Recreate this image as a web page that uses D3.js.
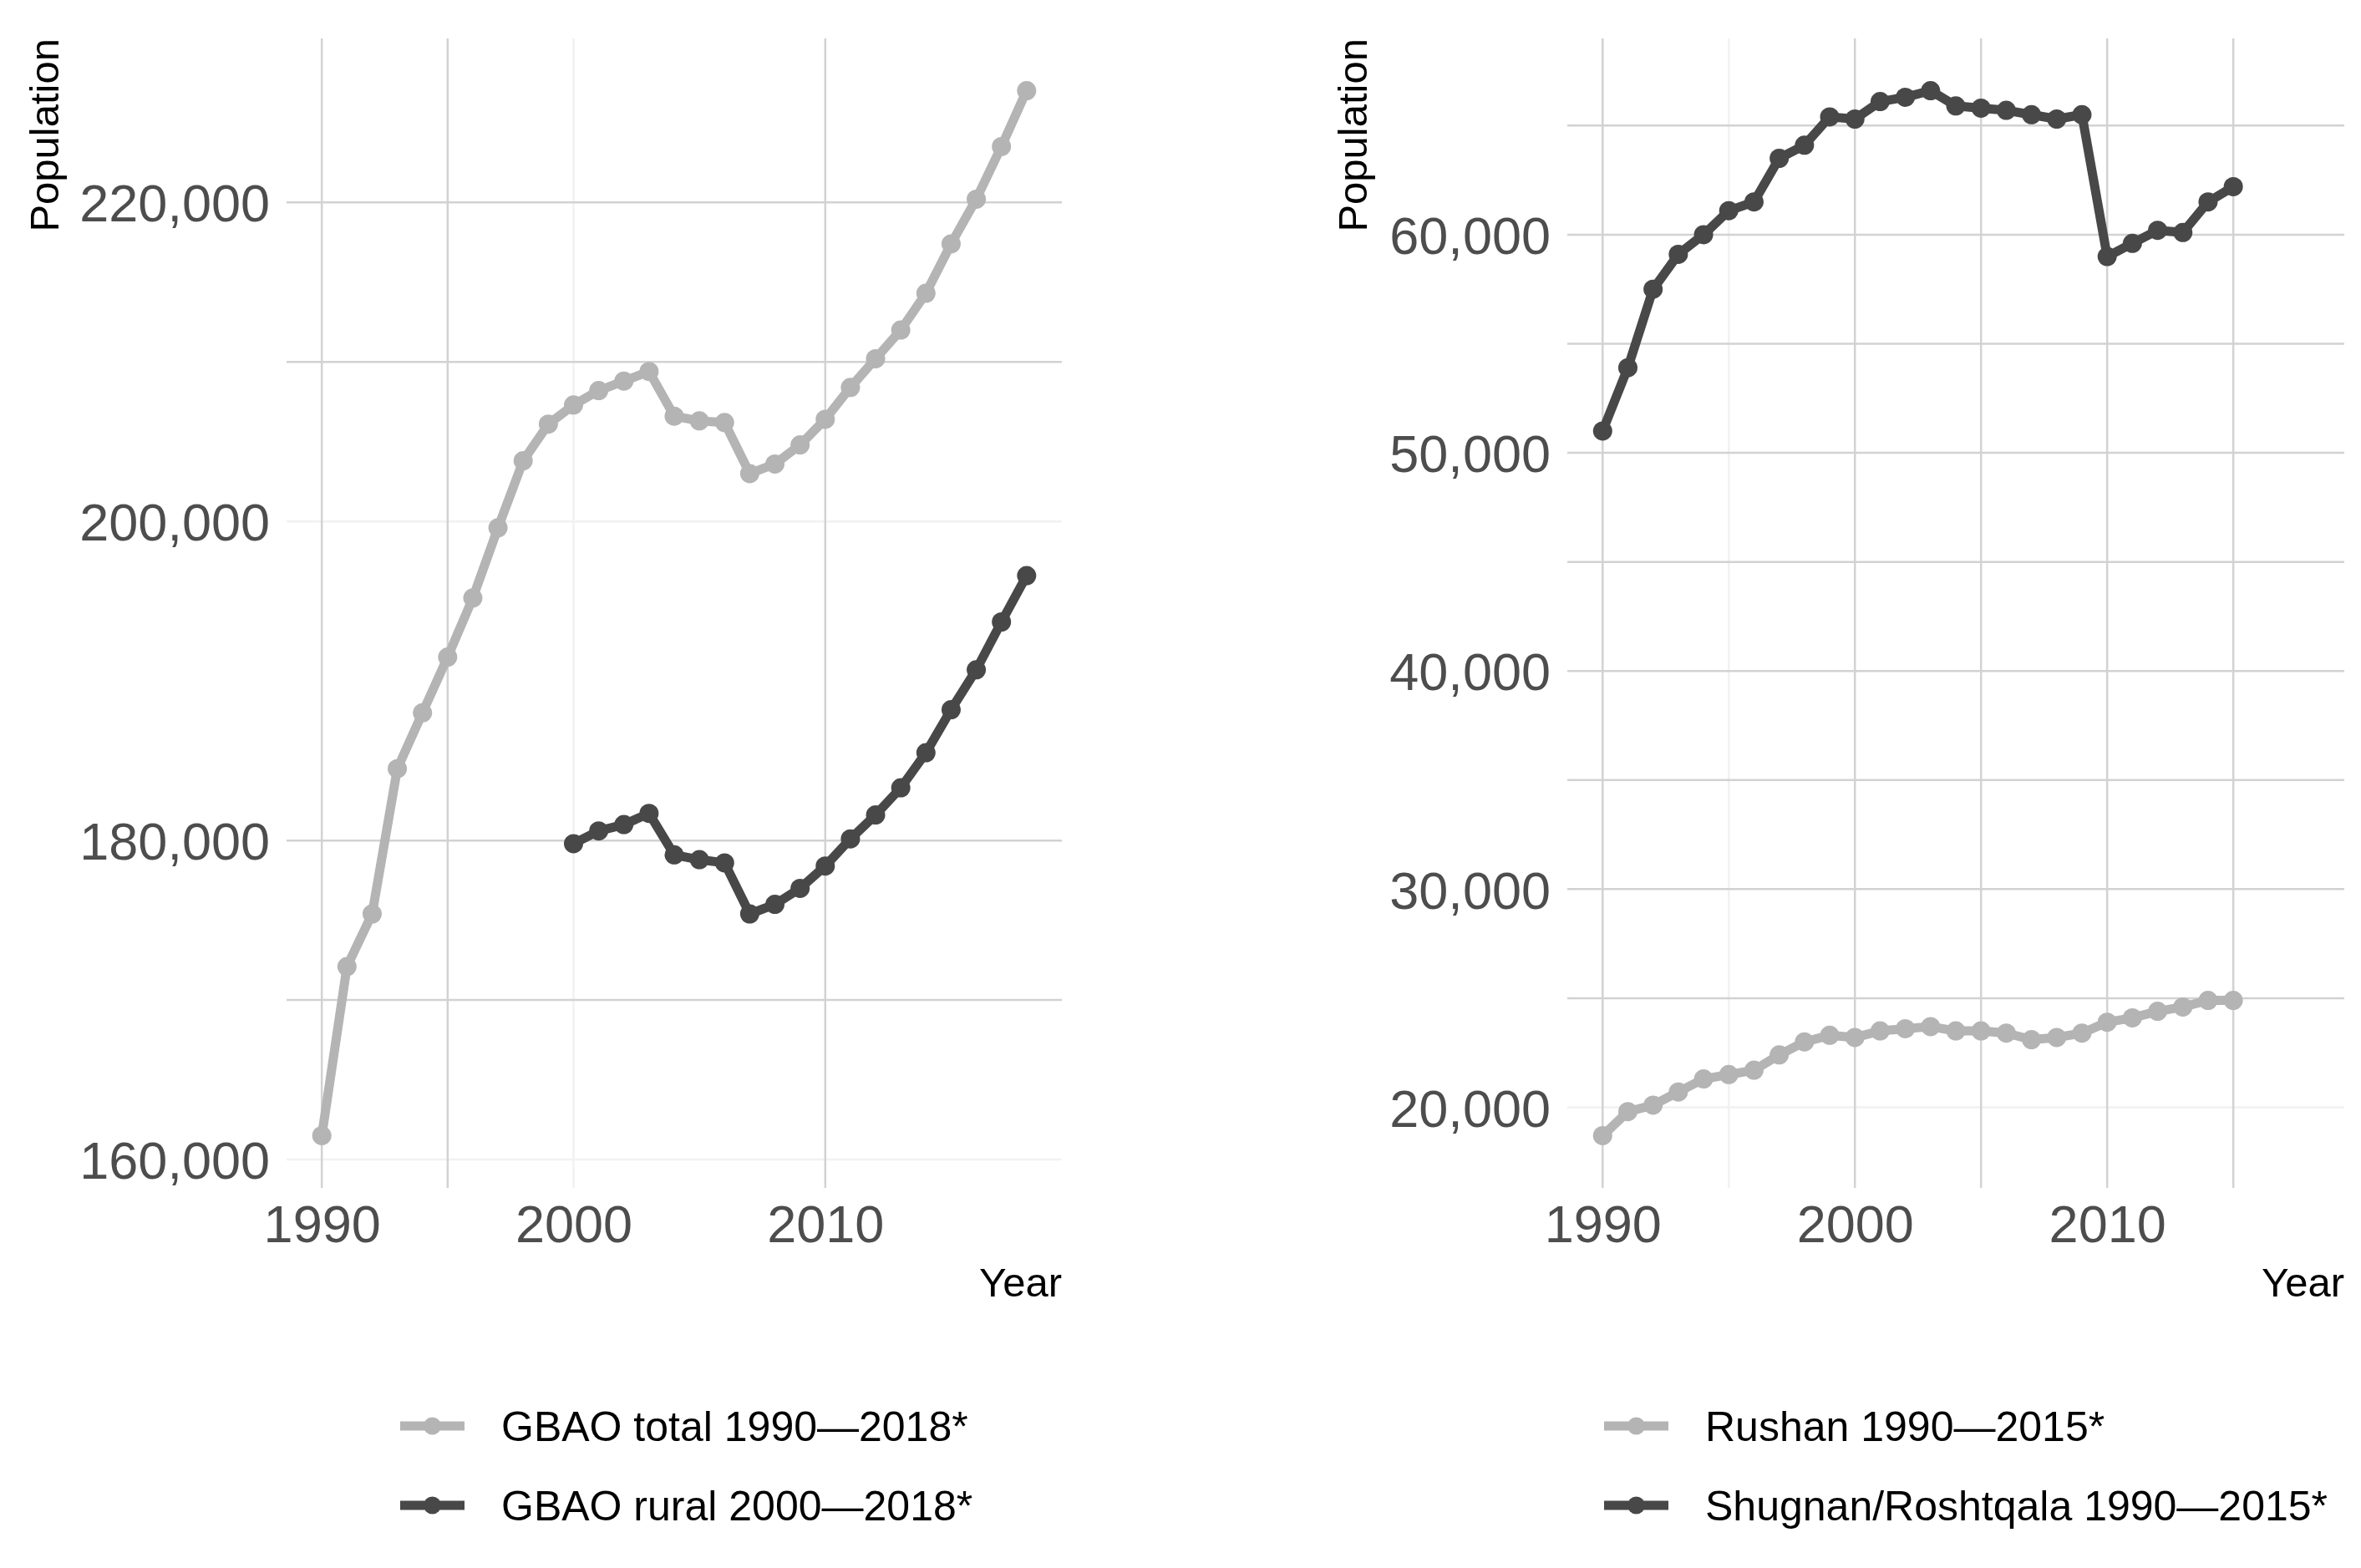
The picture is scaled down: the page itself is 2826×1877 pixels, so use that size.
<!DOCTYPE html>
<html>
<head>
<meta charset="utf-8">
<script src="https://cdn.jsdelivr.net/npm/d3@7"></script>
<style>
  html, body { margin: 0; padding: 0; background: #ffffff; }
  svg { display: block; font-family: "Liberation Sans", Arial, sans-serif; }
</style>
</head>
<body>
<svg id="chart"></svg>
<script>
// ---- data ----
const yearsTotal = [1990, 1991, 1992, 1993, 1994, 1995, 1996, 1997, 1998, 1999,
                    2000, 2001, 2002, 2003, 2004, 2005, 2006, 2007, 2008, 2009,
                    2010, 2011, 2012, 2013, 2014, 2015, 2016, 2017, 2018];
const yearsRural = [2000, 2001, 2002, 2003, 2004, 2005, 2006, 2007, 2008, 2009,
                    2010, 2011, 2012, 2013, 2014, 2015, 2016, 2017, 2018];
const yearsDistrict = [1990, 1991, 1992, 1993, 1994, 1995, 1996, 1997, 1998, 1999,
                       2000, 2001, 2002, 2003, 2004, 2005, 2006, 2007, 2008, 2009,
                       2010, 2011, 2012, 2013, 2014, 2015];

const gbaoTotal = [161500, 172100, 175400, 184500, 188000, 191500, 195200, 199600, 203800, 206100,
                   207300, 208200, 208800, 209400, 206600, 206300, 206200, 203000, 203600, 204800,
                   206400, 208400, 210200, 212000, 214300, 217400, 220200, 223500, 227000];
const gbaoRural = [179800, 180600, 181000, 181700, 179100, 178800, 178600, 175400, 176000, 177000,
                   178400, 180100, 181600, 183300, 185500, 188200, 190700, 193700, 196600];
const rushan = [18700, 19800, 20100, 20700, 21300, 21500, 21700, 22400, 23000, 23300,
                23200, 23500, 23600, 23700, 23500, 23500, 23400, 23100, 23200, 23400,
                23900, 24100, 24400, 24600, 24900, 24900];
const shugnan = [51000, 53900, 57500, 59100, 60000, 61100, 61500, 63500, 64100, 65400,
                 65300, 66100, 66300, 66600, 65900, 65800, 65700, 65500, 65300, 65500,
                 59000, 59600, 60200, 60100, 61500, 62200];

// tick labels
const ticksX = [1990, 2000, 2010];
const leftTicksY = [160000, 180000, 200000, 220000];
const rightTicksY = [20000, 30000, 40000, 50000, 60000];

// grid lines as they show in the picture (some are nearly washed out)
const leftGridX = [1990, 1995, 2010];
const leftGridXFaint = [2000];
const leftGridY = [170000, 180000, 210000, 220000];
const leftGridYFaint = [160000, 200000];
const rightGridX = [1990, 2000, 2005, 2010, 2015];
const rightGridXFaint = [1995];
const rightGridY = [25000, 30000, 35000, 40000, 45000, 50000, 55000, 60000, 65000];
const rightGridYFaint = [20000];

const legendLeft = ["GBAO total 1990\u20142018*", "GBAO rural 2000\u20142018*"];
const legendRight = ["Rushan 1990\u20142015*", "Shugnan/Roshtqala 1990\u20142015*"];

// ---- layout ----
const w = 2826;
const h = 1877;
const panelTop = 46;
const panelBottom = 1422;
const light = "#b4b4b4";
const dark = "#484848";
const gridColor = "#d2d2d2";
const faintColor = "#f1f1f1";

const svg = d3.select("#chart")
              .attr("width", w)
              .attr("height", h)
              .style("background", "#ffffff");

svg.append("rect")
   .attr("width", w)
   .attr("height", h)
   .attr("fill", "#ffffff");

// ggplot style 5% padding on both sides of the data
const expand = (lo, hi) => [lo - (hi - lo) * 0.05, hi + (hi - lo) * 0.05];

const drawPanel = (p) => {
  const x = d3.scaleLinear().domain(expand(1990, 2018)).range([p.left, p.right]);
  const allValues = p.series.flatMap(s => s.values);
  const y = d3.scaleLinear().domain(expand(d3.min(allValues), d3.max(allValues))).range([panelBottom, panelTop]);

  const g = svg.append("g");

  // grid
  const vLines = (list, color) => g.selectAll(null)
    .data(list).enter().append("line")
    .attr("x1", d => x(d)).attr("x2", d => x(d))
    .attr("y1", panelTop).attr("y2", panelBottom)
    .attr("stroke", color).attr("stroke-width", 2.5);
  const hLines = (list, color) => g.selectAll(null)
    .data(list).enter().append("line")
    .attr("x1", p.left).attr("x2", p.right)
    .attr("y1", d => y(d)).attr("y2", d => y(d))
    .attr("stroke", color).attr("stroke-width", 2.5);
  vLines(p.gridXFaint, faintColor);
  hLines(p.gridYFaint, faintColor);
  vLines(p.gridX, gridColor);
  hLines(p.gridY, gridColor);

  // axes without lines, only labels
  const axisY = d3.axisLeft(y).tickValues(p.ticksY).tickSize(0).tickPadding(20).tickFormat(d3.format(","));
  const axisX = d3.axisBottom(x).tickValues(ticksX).tickSize(0).tickPadding(20).tickFormat(d3.format("d"));

  const gy = g.append("g")
              .attr("transform", `translate(${p.left}, 0)`)
              .call(axisY);
  const gx = g.append("g")
              .attr("transform", `translate(0, ${panelBottom})`)
              .call(axisX);
  [gy, gx].forEach(a => {
    a.select(".domain").remove();
    a.selectAll("text")
     .attr("fill", "#4d4d4d")
     .style("font-size", "63px")
     .style("font-family", "'Liberation Sans', Arial, sans-serif");
  });
  gy.selectAll("text").attr("dy", "0.36em");

  // axis titles
  g.append("text")
   .attr("transform", `translate(${p.titleX}, ${panelTop}) rotate(-90)`)
   .attr("text-anchor", "end")
   .style("font-size", "49px")
   .text("Population");
  g.append("text")
   .attr("x", p.right)
   .attr("y", 1552)
   .attr("text-anchor", "end")
   .style("font-size", "49px")
   .text("Year");

  // lines and points
  const line = d3.line().x(d => x(d[0])).y(d => y(d[1]));
  p.series.forEach(s => {
    const pts = s.years.map((yr, i) => [yr, s.values[i]]);
    g.append("path")
     .datum(pts)
     .attr("d", line)
     .attr("fill", "none")
     .attr("stroke", s.color)
     .attr("stroke-width", 11)
     .attr("stroke-linejoin", "round");
    g.selectAll(null)
     .data(pts).enter().append("circle")
     .attr("cx", d => x(d[0]))
     .attr("cy", d => y(d[1]))
     .attr("r", 11.5)
     .attr("fill", s.color);
  });

  // legend
  const rows = [1707, 1802];
  p.series.forEach((s, i) => {
    g.append("line")
     .attr("x1", p.keyX).attr("x2", p.keyX + 77)
     .attr("y1", rows[i]).attr("y2", rows[i])
     .attr("stroke", s.color).attr("stroke-width", 11);
    g.append("circle")
     .attr("cx", p.keyX + 38.5).attr("cy", rows[i])
     .attr("r", 10.5).attr("fill", s.color);
    g.append("text")
     .attr("x", p.keyX + 121)
     .attr("y", rows[i])
     .attr("dy", "0.36em")
     .style("font-size", "50px")
     .attr("fill", "#000000")
     .text(p.legend[i]);
  });
};

drawPanel({
  left: 343, right: 1271, titleX: 70, keyX: 479,
  ticksY: leftTicksY,
  gridX: leftGridX, gridXFaint: leftGridXFaint,
  gridY: leftGridY, gridYFaint: leftGridYFaint,
  legend: legendLeft,
  series: [
    {years: yearsTotal, values: gbaoTotal, color: light},
    {years: yearsRural, values: gbaoRural, color: dark}
  ]
});

drawPanel({
  left: 1876, right: 2806, titleX: 1636, keyX: 1920,
  ticksY: rightTicksY,
  gridX: rightGridX, gridXFaint: rightGridXFaint,
  gridY: rightGridY, gridYFaint: rightGridYFaint,
  legend: legendRight,
  series: [
    {years: yearsDistrict, values: rushan, color: light},
    {years: yearsDistrict, values: shugnan, color: dark}
  ]
});
</script>
</body>
</html>
